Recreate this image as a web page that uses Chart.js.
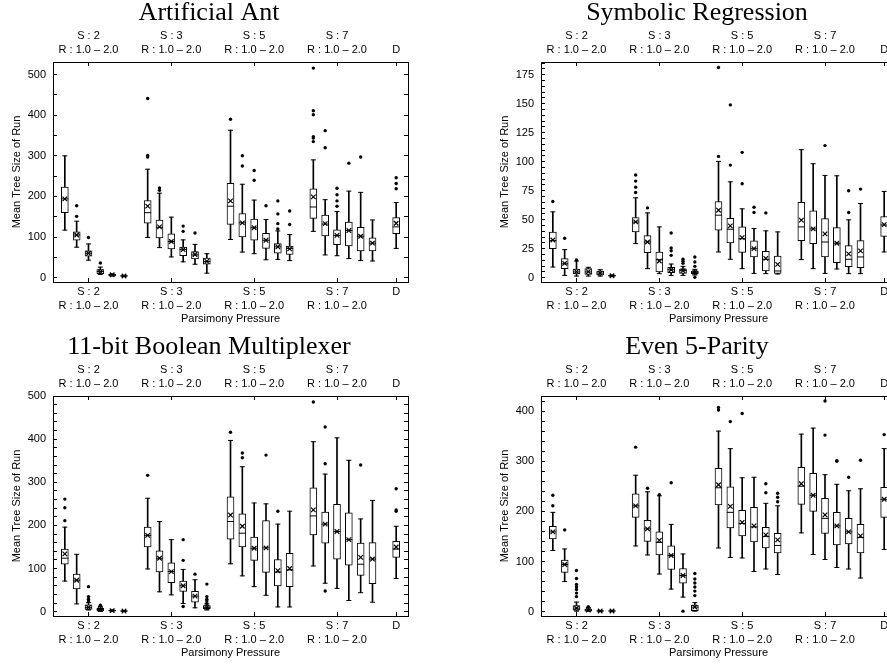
<!DOCTYPE html>
<html><head><meta charset="utf-8">
<script src="https://cdn.jsdelivr.net/npm/chart.js@4.4.1/dist/chart.umd.min.js"></script>
<style>
html,body{margin:0;padding:0;background:#fff;width:887px;height:665px;overflow:hidden;position:relative}
canvas{position:absolute}
</style></head><body>
<canvas id="c1" width="418" height="330" style="left:0;top:0"></canvas>
<canvas id="c2" width="418" height="330" style="left:488px;top:0"></canvas>
<canvas id="c3" width="418" height="330" style="left:0;top:334px"></canvas>
<canvas id="c4" width="418" height="330" style="left:488px;top:334px"></canvas>
<script>
// ---- shared categories ----
const positions = [0,1,2,3,4,5, 7,8,9,10,11,12, 14,15,16,17,18,19, 21,22,23,24,25,26, 28];
const xTickPos = [2, 9, 16, 23, 28];
const xTickLabels = [["S : 2","R : 1.0 – 2.0"],["S : 3","R : 1.0 – 2.0"],["S : 5","R : 1.0 – 2.0"],["S : 7","R : 1.0 – 2.0"],["D"]];
const xTitle = "Parsimony Pressure";
const yTitle = "Mean Tree Size of Run";

// ---- Artificial Ant ----
const antLow  = [117,75,43,8,4,3, 99,74,51,39,33,11, 94,63,59,44,45,42, 114,56,54,47,42,41, 72];
const antQ1   = [160,92,53,10,5,3.5, 134,98,71,54,46,33, 131,100,92,72,60,57, 146,103,81,78,66,66, 108];
const antMed  = [194,105,60,15,7,4, 160,124,89,69,56,40, 176,135,123,92,76,72, 174,132,104,116,102,85, 125];
const antQ3   = [223,113,66,20,8,5, 190,142,108,75,64,48, 232,158,144,109,84,78, 219,154,118,137,124,98, 148];
const antHigh = [300,139,83,26,9,5.5, 267,208,149,93,82,59, 363,230,191,143,115,106, 290,192,163,213,210,142, 185];
const antMean = [194,105,60,15,7,4, 176,125,89,69,57,40, 189,135,123,92,76,71, 199,133,104,116,102,85, 134];
const antOut  = [[],[177,151],[99],[36],[],[], [441,301,297],[221,215],[],[127,114],[110],[], [390],[300,275],[264,240],[177],[189,157,133,120],[164,131], [516,411,401,347,344,335],[362,320],[220,204,189,176],[282],[297],[], [246,232,219]];
const antYTicks = [0,50,100,150,200,250,300,350,400,450,500];
const antYLabels = [0,100,200,300,400,500];

// ---- Symbolic Regression ----
const srLow  = [9.2,2,1.4,1.4,1.4,1.2, 29.4,7.8,3.5,2,2,2.3, 22.2,15.9,7.8,3.7,3.5,3.2, 15.6,7.8,3.7,7.5,3.5,3.5, 22.2];
const srQ1   = [25,7.8,3.2,2.9,2.3,1.4, 39.5,21.6,4.9,4.3,3.7,3.5, 40.9,30,21.9,17.9,5.8,3.7, 32,29.4,17.9,13,9.5,8.6, 35.7];
const srMed  = [32,12,5,5,4,1.7, 48,30.8,15.5,6.9,6.1,4.6, 53.9,41.8,33.7,25,15.9,5.8, 43.8,42.1,30.8,29.7,15.9,17.9, 45.5];
const srQ3   = [39.3,16.4,7.5,7.8,5.8,2.0, 51.9,36.3,22.2,8.9,7.5,5.8, 65.7,51.3,43.8,31.7,22.8,18.7, 64.9,57.7,51,43.2,27.7,32, 52.8];
const srHigh = [56.8,24.2,14.4,9,6.9,2.2, 68.9,55.9,43.8,11.8,9.8,7.2, 100.3,82.7,59.4,42.4,40.4,39.5, 110.4,98.3,88.2,87.9,49.9,64, 74.4];
const srMean = [32.5,12.4,5.2,5.2,4,1.7, 48.1,30.8,14.4,6.9,6.1,4.6, 58.2,44.7,34.6,25.1,16.7,11.5, 49.6,42.1,37.8,29.7,20.5,23.1, 45.8];
const srOut  = [[65.7],[34],[15.3],[],[],[], [88.5,83.3,78.1,73.5],[60.2],[],[38.6,25.7,23.3,19.3],[15.9,14.1,12.4],[17.9,13.5,9.8,0.3], [181.3,104.6],[149,97.1],[108.1,81],[60.8,56.2],[55.9],[], [],[],[113.9],[],[75,56.2],[76.4], []];
const srYTicks = [0,5,10,15,20,25,30,35,40,45,50,55,60,65,70,75,80,85,90,95,100,105,110,115,120,125,130,135,140,145,150,155,160,165,170,175,180,185];
const srYLabels = [0,25,50,75,100,125,150,175];

// ---- 11-bit Boolean Multiplexer ----
const muxLow  = [71,18,4,1,1,0.5, 99,46,39,19,9,4, 111,83,58,38,11,11, 106,66,54,26,44,22, 77];
const muxQ1   = [110,53,5,2,1.5,1, 150,92,67,47,22,7, 168,150,119,91,60,58, 178,159,122,108,84,65, 126];
const muxMed  = [124,73,10,5,2.5,1.5, 177,124,93,60,36,10, 209,182,147,148,92,97, 222,203,186,167,110,122, 145];
const muxQ3   = [145,87,16,8,3.5,2, 196,141,113,71,47,14, 266,227,173,211,121,135, 287,231,249,229,159,160, 163];
const muxHigh = [196,133,21,12,4,2.5, 263,209,167,98,74,18, 397,336,252,250,203,233, 394,319,403,351,215,258, 198];
const muxMean = [134,73,10,5,2.5,1.5, 177,124,93,60,36,10, 224,198,147,148,95,100, 236,203,186,167,126,122, 150];
const muxOut  = [[261,241,211],[],[58,35,29,25],[15],[],[], [316],[],[],[167,119,12],[87],[64,35,29,25,19], [416],[368,357],[],[363],[233],[], [486],[428,343,48],[],[],[340],[], [285,236,233]];
const muxYTicks = [0,20,40,60,80,100,120,140,160,180,200,220,240,260,280,300,320,340,360,380,400,420,440,460,480,500];
const muxYLabels = [0,100,200,300,400,500];

// ---- Even 5-Parity ----
const parLow  = [122,60,1,1,1,1, 131,113,75,45,29,1, 127,108,107,80,85,74, 157,114,104,88,85,67, 124];
const parQ1   = [145,78,3,1,1,1, 188,140,113,84,57,2, 213,167,151,139,127,117, 214,200,156,133,135,117, 188];
const parMed  = [159,94,7,3,1.3,1.3, 211,165,138,112,72,9, 247,198,176,169,150,132, 250,232,186,171,159,148, 224];
const parQ3   = [170,103,12,5,1.6,1.6, 235,182,159,131,86,13, 286,249,202,208,168,156, 288,276,226,198,186,174, 248];
const parHigh = [198,125,19,8,2,2, 272,239,231,174,115,18, 360,325,267,268,216,211, 354,366,273,254,241,245, 325];
const parMean = [159,94,7,3,1.3,1.3, 211,165,142,112,72,9, 253,210,178,171,153,143, 255,232,193,171,159,151, 224];
const parOut  = [[232,211],[163],[82,66,54,49,44,37,30],[10],[],[], [328],[246],[233],[257],[1],[76,65,57,49,41,32], [407,402],[379],[395],[],[255,237],[236,228,219], [],[],[420,352],[301,300],[268],[302], [353]];
const parYTicks = [0,20,40,60,80,100,120,140,160,180,200,220,240,260,280,300,320,340,360,380,400,420];
const parYLabels = [0,100,200,300,400];

Chart.defaults.font.family = "'Liberation Sans', Arial, sans-serif";
Chart.defaults.font.size = 11;
Chart.defaults.color = '#000';

function xLabel(v) {
  const k = xTickPos.indexOf(v);
  return k >= 0 ? xTickLabels[k] : '';
}

function buildPanel(id, title, d, yMin, yMax, yTicks, yLabels) {
  const pts = arr => positions.map((x, i) => ({x: x, y: arr[i]}));
  const outPts = [];
  positions.forEach((x, i) => d.out[i].forEach(v => outPts.push({x: x, y: v})));
  const pointBase = {type: 'scatter', showLine: false, pointBorderColor: '#000', pointBackgroundColor: '#000', pointBorderWidth: 1, pointHoverRadius: 0};
  const datasets = [
    {type: 'bar', data: positions.map((x, i) => ({x: x, y: [d.low[i], d.high[i]]})),
     backgroundColor: '#000', borderWidth: 0, barThickness: 1, grouped: false, order: 6},
    {type: 'bar', data: positions.map((x, i) => ({x: x, y: [d.q1[i], d.q3[i]]})),
     backgroundColor: '#fff', borderColor: '#000', borderWidth: 1, borderSkipped: false, barThickness: 7, grouped: false, order: 5},
    Object.assign({}, pointBase, {data: pts(d.med), pointStyle: 'line', pointRadius: 3.5, order: 4}),
    Object.assign({}, pointBase, {data: pts(d.low).concat(pts(d.high)), pointStyle: 'line', pointRadius: 2.5, order: 4}),
    Object.assign({}, pointBase, {data: pts(d.mean), pointStyle: 'crossRot', pointRadius: 3.2, pointBorderWidth: 1.2, order: 3}),
    Object.assign({}, pointBase, {data: outPts, pointStyle: 'circle', pointRadius: 1.7, pointBorderWidth: 0, order: 2})
  ];
  const yTickFn = s => { s.ticks = yTicks.map(v => ({value: v})); };
  const xTickFn = s => { s.ticks = xTickPos.map(v => ({value: v})); };
  const gridCfg = {drawOnChartArea: false, tickLength: -4, color: '#000', lineWidth: 1, offset: false};
  const borderCfg = {display: true, color: '#000', width: 1};
  new Chart(document.getElementById(id), {
    type: 'bar',
    data: {datasets: datasets},
    options: {
      responsive: false, animation: false, events: [],
      layout: {padding: 0},
      plugins: {
        legend: {display: false}, tooltip: {enabled: false},
        title: {display: true, text: title, color: '#000',
          font: {family: "'Liberation Serif', 'Times New Roman', serif", size: 26, weight: 'normal', lineHeight: 1},
          padding: {top: 0, bottom: 0}}
      },
      scales: {
        x: {type: 'linear', position: 'bottom', min: -1, max: 29, offset: false,
          afterBuildTicks: xTickFn, afterFit: s => { s.height = 48; },
          ticks: {callback: xLabel, autoSkip: false, maxRotation: 0, minRotation: 0, padding: 7, font: {size: 11, lineHeight: 14/11}, color: '#000'},
          grid: gridCfg, border: borderCfg,
          title: {display: true, text: xTitle, color: '#000', font: {size: 11, lineHeight: 1.2}, padding: {top: 0, bottom: 4.4}}},
        x2: {type: 'linear', position: 'top', min: -1, max: 29, offset: false,
          afterBuildTicks: xTickFn, afterFit: s => { s.height = 36; },
          ticks: {callback: xLabel, autoSkip: false, maxRotation: 0, minRotation: 0, padding: 9, font: {size: 11, lineHeight: 14/11}, color: '#000'},
          grid: gridCfg, border: borderCfg},
        y: {type: 'linear', position: 'left', min: yMin, max: yMax,
          afterBuildTicks: yTickFn, afterFit: s => { s.width = 53; },
          ticks: {callback: v => (yLabels.indexOf(v) >= 0 ? String(v) : ''), autoSkip: false, padding: 11, color: '#000', font: {size: 11}},
          grid: gridCfg, border: borderCfg,
          title: {display: true, text: yTitle, color: '#000', font: {size: 11, lineHeight: 1.2}, padding: {top: 10.4, bottom: 0}}},
        y2: {type: 'linear', position: 'right', min: yMin, max: yMax,
          afterBuildTicks: yTickFn, afterFit: s => { s.width = 10; },
          ticks: {display: false, autoSkip: false},
          grid: gridCfg, border: borderCfg}
      }
    }
  });
}

buildPanel('c1', 'Artificial Ant',
  {low: antLow, q1: antQ1, med: antMed, q3: antQ3, high: antHigh, mean: antMean, out: antOut},
  -10.7, 531, antYTicks, antYLabels);
buildPanel('c2', 'Symbolic Regression',
  {low: srLow, q1: srQ1, med: srMed, q3: srQ3, high: srHigh, mean: srMean, out: srOut},
  -3.7, 186, srYTicks, srYLabels);
buildPanel('c3', '11-bit Boolean Multiplexer',
  {low: muxLow, q1: muxQ1, med: muxMed, q3: muxQ3, high: muxHigh, mean: muxMean, out: muxOut},
  -10, 500, muxYTicks, muxYLabels);
buildPanel('c4', 'Even 5-Parity',
  {low: parLow, q1: parQ1, med: parMed, q3: parQ3, high: parHigh, mean: parMean, out: parOut},
  -8.7, 430, parYTicks, parYLabels);
</script>
</body></html>
